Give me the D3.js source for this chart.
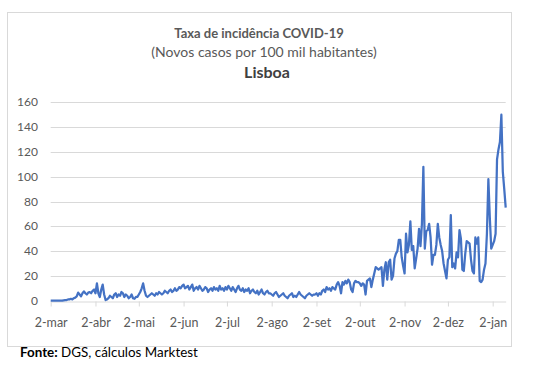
<!DOCTYPE html>
<html>
<head>
<meta charset="utf-8">
<script src="https://cdn.jsdelivr.net/npm/d3@7"></script>
<style>
    body { margin: 0; background: #fff; }
    svg { display: block; font-family: Lato, "Open Sans", sans-serif; }
</style>
</head>
<body>
<div id="chart"></div>
<script>
// daily new cases per 100k, Lisboa, 2 Mar 2020 .. 11 Jan 2021
let mar = [0, 0, 0, 0, 0, 0, 0, 0, 0, 0.3, 0.5, 0.5, 1, 1, 1.5, 1, 2, 2.5, 3.5, 6.5, 5, 3.5, 6, 7.5, 6, 5, 6.5, 7, 6, 8];
let abr = [9, 6, 14, 6, 3, 9, 13, 5, 0.5, 1, 2, 4, 3, 2, 5, 6, 3, 5, 4, 7, 6, 3, 5, 4, 2, 3, 5, 2, 1.5, 3];
let mai = [3, 5, 7, 10, 14, 8, 4, 3, 4, 5, 6, 5, 4, 6, 5, 7, 6, 5, 6, 8, 7, 6, 8, 9, 7, 8, 10, 8, 9, 11, 10];
let jun = [12, 13, 10, 11, 12, 9, 11, 13, 8, 10, 11, 9, 12, 10, 8, 9, 11, 10, 7, 9, 10, 8, 11, 9, 10, 8, 12, 9, 10, 8];
let jul = [11, 9, 12, 10, 8, 11, 9, 7, 10, 12, 9, 8, 10, 7, 9, 8, 10, 6, 8, 9, 7, 6, 8, 5, 7, 9, 6, 5, 7, 8, 6];
let ago = [6, 5, 4, 6, 7, 5, 3, 4, 5, 6, 4, 3, 2, 4, 5, 6, 3, 4, 3, 5, 7, 5, 4, 3, 2, 4, 5, 6, 5, 4, 5];
let set = [5, 6, 4, 6, 5, 8, 9, 7, 11, 9, 10, 8, 11, 10, 9, 13, 15, 12, 6, 15, 13, 16, 14, 17, 15, 9, 7, 14, 16, 15];
let out = [15, 14, 12, 14, 13, 5, 16, 17, 18, 11, 17, 22, 27, 26, 25, 26, 27, 12, 25, 31, 17, 31, 33, 17, 20, 34, 38, 40, 49, 49, 35];
let nov = [28, 22, 54, 39, 45, 64, 41, 44, 26, 34, 42, 58, 44, 62, 108, 42, 56, 57, 62, 51, 29, 37, 37, 45, 62, 51, 45, 40, 30, 24];
let dez = [18, 33, 35, 69, 27, 30, 26, 39, 35, 57, 50, 25, 24, 38, 48, 47, 46, 33, 24, 22, 51, 46, 51, 16, 15, 17, 25, 30, 54, 98, 67];
let jan = [42, 45, 48, 54, 114, 122, 128, 150, 104, 90, 75];

let tickLabels = ["2-mar", "2-abr", "2-mai", "2-jun", "2-jul", "2-ago", "2-set", "2-out", "2-nov", "2-dez", "2-jan"];
let yTicks = [0, 20, 40, 60, 80, 100, 120, 140, 160];

let width = 536, height = 369;
let values = [].concat(mar, abr, mai, jun, jul, ago, set, out, nov, dez, jan);
let start = new Date(Date.UTC(2020, 2, 2));
let data = values.map((v, i) => ({ date: d3.utcDay.offset(start, i), value: v }));
let tickDates = tickLabels.map((t, i) => d3.utcMonth.offset(start, i));

let svg = d3.select("#chart").append("svg")
    .attr("width", width)
    .attr("height", height);

// chart area border
svg.append("rect")
    .attr("x", 7.5)
    .attr("y", 12.5)
    .attr("width", 504)
    .attr("height", 334)
    .attr("fill", "#fff")
    .attr("stroke", "#d9d9d9");

let x = d3.scaleUtc()
    .domain(d3.extent(data, d => d.date))
    .range([50.7, 505.7]);

let y = d3.scaleLinear()
    .domain([0, 160])
    .range([300.7, 102.3]);

// gridlines
svg.append("g")
    .selectAll("line")
    .data(yTicks.slice(1))
    .join("line")
    .attr("x1", x.range()[0])
    .attr("x2", x.range()[1])
    .attr("y1", d => Math.round(y(d)) + 0.5)
    .attr("y2", d => Math.round(y(d)) + 0.5)
    .attr("stroke", "#d9d9d9");

// y axis labels
svg.append("g")
    .selectAll("text")
    .data(yTicks)
    .join("text")
    .attr("x", 38)
    .attr("y", d => y(d) + 4)
    .attr("text-anchor", "end")
    .style("font-size", "12px")
    .style("fill", "#595959")
    .text(d => d);

// x axis
let xAxis = svg.append("g")
    .attr("transform", "translate(0," + (Math.round(y(0)) + 0.5) + ")")
    .call(d3.axisBottom(x)
        .tickValues(tickDates)
        .tickSize(5)
        .tickSizeOuter(0)
        .tickFormat((d, i) => tickLabels[i]));

xAxis.select(".domain").attr("stroke", "#d9d9d9");
xAxis.selectAll(".tick line").attr("stroke", "#d9d9d9");
xAxis.selectAll(".tick text")
    .attr("y", 17)
    .style("font-family", "Lato, sans-serif")
    .style("font-size", "12.5px")
    .style("fill", "#595959");

// the series
let line = d3.line()
    .x(d => x(d.date))
    .y(d => y(d.value));

svg.append("path")
    .datum(data)
    .attr("fill", "none")
    .attr("stroke", "#4472c4")
    .attr("stroke-width", 2.25)
    .attr("stroke-linejoin", "round")
    .attr("d", line);

// titles
svg.append("text")
    .attr("x", 259)
    .attr("y", 38)
    .attr("text-anchor", "middle")
    .style("font-size", "13px")
    .style("font-weight", "bold")
    .style("fill", "#595959")
    .text("Taxa de incidência COVID-19");

svg.append("text")
    .attr("x", 264)
    .attr("y", 57)
    .attr("text-anchor", "middle")
    .style("font-size", "14px")
    .style("fill", "#595959")
    .text("(Novos casos por 100 mil habitantes)");

svg.append("text")
    .attr("x", 267)
    .attr("y", 78)
    .attr("text-anchor", "middle")
    .style("font-size", "16px")
    .style("font-weight", "bold")
    .style("fill", "#404040")
    .text("Lisboa");

// source note
let src = svg.append("text")
    .attr("x", 20)
    .attr("y", 357)
    .style("font-size", "13.4px")
    .style("fill", "#000");
src.append("tspan").style("font-weight", "bold").text("Fonte:");
src.append("tspan").text(" DGS, cálculos Marktest");
</script>
</body>
</html>
